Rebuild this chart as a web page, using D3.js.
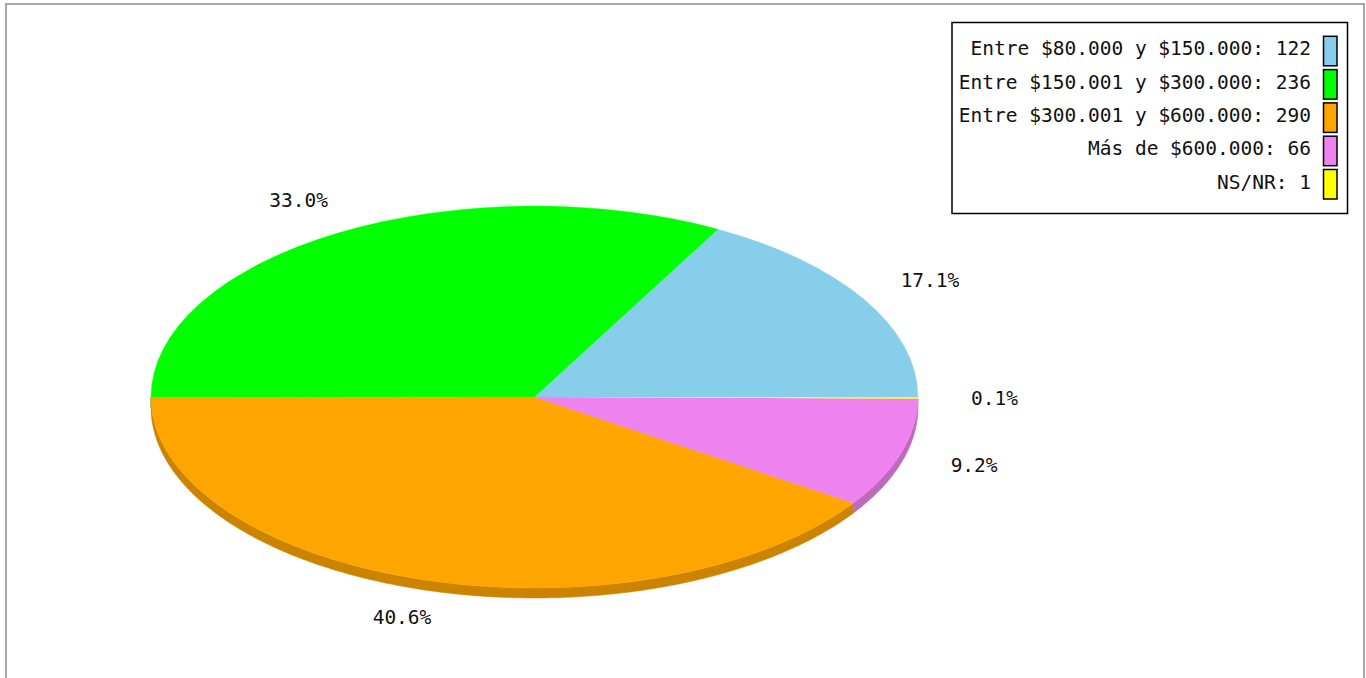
<!DOCTYPE html>
<html>
<head>
<meta charset="utf-8">
<script src="https://cdn.jsdelivr.net/npm/d3@7"></script>
<style>
  html, body { margin: 0; padding: 0; background: #fff; overflow: hidden; }
  svg { display: block; }
  text { font-family: "DejaVu Sans Mono", monospace; font-size: 19.5px; fill: #111; }
</style>
</head>
<body>
<svg id="chart" width="1366" height="678"></svg>
<script>
const categories = [
  "Entre $80.000 y $150.000",
  "Entre $150.001 y $300.000",
  "Entre $300.001 y $600.000",
  "Más de $600.000",
  "NS/NR"
];
const values = [122, 236, 290, 66, 1];
const colors = ["#87CEEB", "#00FF00", "#FFA500", "#EE82EE", "#FFFF00"];

const W = 1366, H = 678;
const svg = d3.select("#chart");

// outer frame
svg.append("rect").attr("x", 6).attr("y", 4).attr("width", 1358).attr("height", 700)
  .attr("fill", "none").attr("stroke", "#a8a8a8").attr("stroke-width", 2);

const cx = 534.5, cy = 397, rx = 383.5, ry = 191, depth = 10;
const labelRx = 460, labelRy = 230;
const total = d3.sum(values);

const pie = d3.pie().sort(null).startAngle(Math.PI / 2).endAngle(Math.PI / 2 - 2 * Math.PI);
const arcs = pie(values);

// theta: counter-clockwise from east
const theta = a => Math.PI / 2 - a;
const px = t => cx + rx * Math.cos(t);
const py = t => cy - ry * Math.sin(t);
const isTiny = d => (d.startAngle - d.endAngle) < 0.01;

// side walls (front half: theta in [pi, 2pi])
const wallG = svg.append("g");
arcs.forEach((d, i) => {
  const t0 = Math.max(theta(d.startAngle), Math.PI);
  const t1 = Math.min(theta(d.endAngle), 2 * Math.PI);
  if (t1 <= t0) return;
  const n = Math.max(2, Math.ceil((t1 - t0) / 0.01));
  const ts = d3.range(n + 1).map(k => t0 + (t1 - t0) * k / n);
  const top = ts.map(t => [px(t), py(t)]);
  const bot = ts.slice().reverse().map(t => [px(t), py(t) + depth]);
  const c = d3.color(colors[i]);
  const dark = d3.rgb(c.r * 0.8, c.g * 0.8, c.b * 0.8);
  wallG.append("path")
    .attr("d", d3.line()(top.concat(bot)) + "Z")
    .attr("fill", dark).attr("stroke", isTiny(d) ? "none" : dark).attr("stroke-width", 0.5);
});

// top faces
const arcGen = d3.arc().innerRadius(0).outerRadius(rx);
svg.append("g")
  .attr("transform", `translate(${cx},${cy}) scale(1,${ry / rx})`)
  .selectAll("path").data(arcs).join("path")
  .attr("d", arcGen)
  .attr("fill", (d, i) => colors[i])
  .attr("stroke", (d, i) => isTiny(d) ? "none" : colors[i])
  .attr("stroke-width", 0.5);

// percentage labels
const fmt = v => (v / total * 100).toFixed(1) + "%";
svg.append("g").selectAll("text").data(arcs).join("text")
  .attr("x", d => cx + labelRx * Math.cos(theta((d.startAngle + d.endAngle) / 2)))
  .attr("y", d => cy - labelRy * Math.sin(theta((d.startAngle + d.endAngle) / 2)) + 7)
  .attr("text-anchor", "middle")
  .text(d => fmt(d.value));

// legend
const lg = svg.append("g");
lg.append("rect").attr("x", 952).attr("y", 22.5).attr("width", 395.5).attr("height", 191)
  .attr("fill", "#fff").attr("stroke", "#000").attr("stroke-width", 1.5);
const rowY = d3.scaleLinear().domain([0, 1]).range([36.3, 69.6]);
categories.forEach((c, i) => {
  lg.append("rect").attr("x", 1323.5).attr("y", rowY(i)).attr("width", 13.5).attr("height", 29.5)
    .attr("fill", colors[i]).attr("stroke", "#000").attr("stroke-width", 1.5);
  lg.append("text").attr("x", 1311).attr("y", rowY(i) + 19)
    .attr("text-anchor", "end")
    .text(`${c}: ${values[i]}`);
});
</script>
</body>
</html>
